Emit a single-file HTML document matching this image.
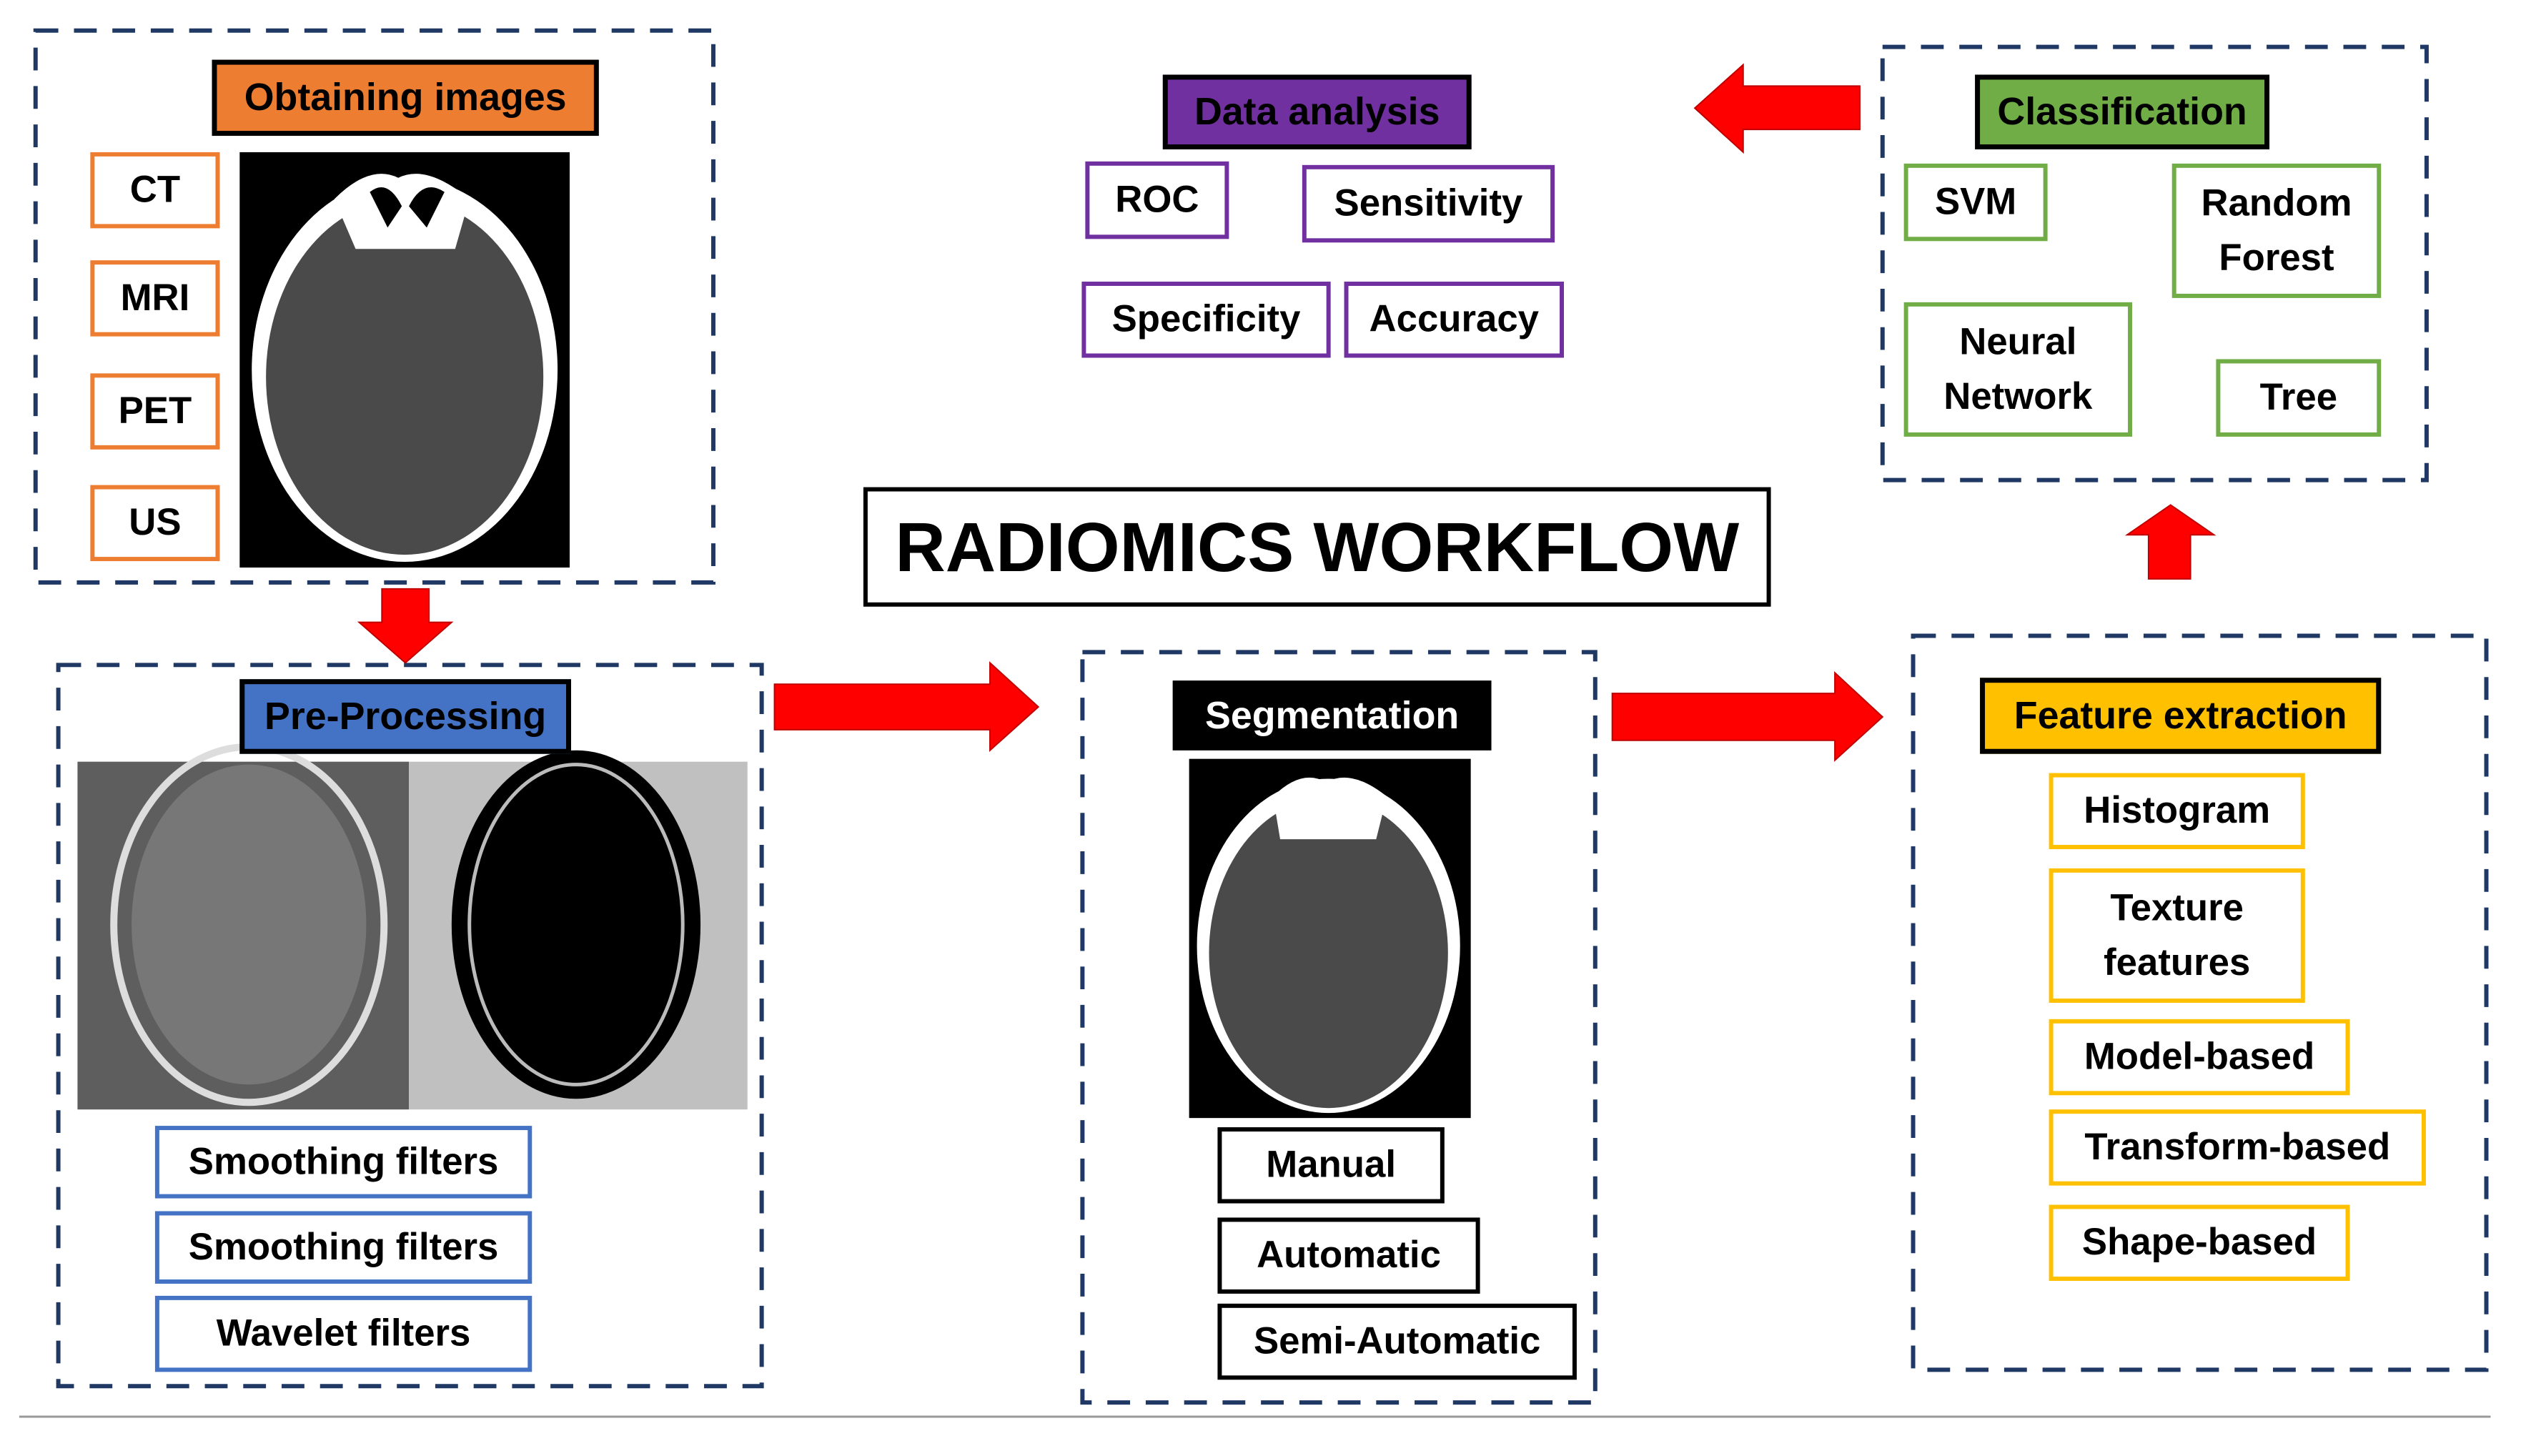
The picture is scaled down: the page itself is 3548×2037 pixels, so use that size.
<!DOCTYPE html>
<html><head><meta charset="utf-8"><style>
html,body{margin:0;padding:0;background:#fff;}
body{width:3548px;height:2037px;position:relative;overflow:hidden;font-family:"Liberation Sans",sans-serif;font-weight:bold;}
#w{position:absolute;left:0;top:0;width:3548px;height:2037px;transform:scale(0.995);transform-origin:0 0;}
.b{position:absolute;box-sizing:border-box;display:flex;align-items:center;justify-content:center;text-align:center;color:#000;background:#fff;font-size:53px;line-height:1.45;}
.o{border:6px solid #ED7D31;}
.bl{border:6px solid #4472C4;}
.k{border:6px solid #000;}
.y{border:6px solid #FFC000;}
.g{border:6px solid #70AD47;}
.p{border:6px solid #7030A0;}
.lab{border:7px solid #000;font-size:54px;}
svg{position:absolute;left:0;top:0;}
</style></head><body><div id="w">
<svg width="3548" height="2037" viewBox="0 0 3548 2037">
<g fill="none" stroke="#1F3864" stroke-width="6" stroke-dasharray="32 22">
<rect x="50" y="43" width="953" height="776"/>
<rect x="82" y="935" width="989" height="1014"/>
<rect x="1522" y="917" width="721" height="1055"/>
<rect x="2690" y="894" width="806" height="1032"/>
<rect x="2647" y="66" width="765" height="609"/>
</g>
<g fill="#FF0000" stroke="#C00000" stroke-width="2">
<polygon points="537,828 603,828 603,875 635,875 570,932 505,875 537,875"/>
<polygon points="1089,962 1392,962 1392,932 1460,994 1392,1055 1392,1026 1089,1026"/>
<polygon points="2267,975 2580,975 2580,946 2647,1008 2580,1069 2580,1041 2267,1041"/>
<polygon points="3021,814 3080,814 3080,752 3113,752 3052,710 2991,752 3021,752"/>
<polygon points="2615,121 2451,121 2451,91 2383,152 2451,214 2451,182 2615,182"/>
</g>
<rect x="337" y="214" width="464" height="584" fill="#000"/>
<ellipse cx="569" cy="520" rx="215" ry="270" fill="#fff"/>
<ellipse cx="569" cy="530" rx="195" ry="250" fill="#4a4a4a"/>
<path d="M470 280 Q520 230 560 250 Q600 230 660 280 L640 350 L500 350 Z" fill="#fff"/>
<path d="M520 270 Q545 250 565 290 L545 320 Z M575 290 Q595 250 625 270 L600 320 Z" fill="#000"/>
<rect x="109" y="1071" width="466" height="489" fill="#5e5e5e"/>
<ellipse cx="350" cy="1300" rx="190" ry="250" fill="none" stroke="#ddd" stroke-width="10"/>
<ellipse cx="350" cy="1300" rx="165" ry="225" fill="#777"/>
<rect x="575" y="1071" width="476" height="489" fill="#c0c0c0"/>
<ellipse cx="810" cy="1300" rx="175" ry="245" fill="#000"/>
<ellipse cx="810" cy="1300" rx="150" ry="225" fill="none" stroke="#bbb" stroke-width="5"/>
<rect x="1672" y="1067" width="396" height="505" fill="#000"/>
<ellipse cx="1868" cy="1330" rx="185" ry="235" fill="#fff"/>
<ellipse cx="1868" cy="1340" rx="168" ry="218" fill="#4a4a4a"/>
<path d="M1790 1120 Q1830 1080 1865 1100 Q1900 1080 1950 1120 L1935 1180 L1800 1180 Z" fill="#fff"/>
<line x1="27" y1="1992" x2="3502" y2="1992" stroke="#999" stroke-width="3"/>
</svg>

<div class="b lab" style="left:298px;top:84px;width:544px;height:107px;background:#ED7D31;">Obtaining images</div>
<div class="b o" style="left:127px;top:214px;width:182px;height:107px;">CT</div>
<div class="b o" style="left:127px;top:366px;width:182px;height:107px;">MRI</div>
<div class="b o" style="left:127px;top:525px;width:182px;height:107px;">PET</div>
<div class="b o" style="left:127px;top:682px;width:182px;height:107px;">US</div>

<div class="b lab" style="left:337px;top:955px;width:466px;height:105px;background:#4472C4;">Pre-Processing</div>
<div class="b bl" style="left:218px;top:1583px;width:530px;height:102px;">Smoothing filters</div>
<div class="b bl" style="left:218px;top:1703px;width:530px;height:102px;">Smoothing filters</div>
<div class="b bl" style="left:218px;top:1822px;width:530px;height:107px;">Wavelet filters</div>

<div class="b lab" style="left:1649px;top:957px;width:448px;height:98px;background:#000;color:#fff;">Segmentation</div>
<div class="b k" style="left:1712px;top:1585px;width:319px;height:107px;">Manual</div>
<div class="b k" style="left:1712px;top:1712px;width:369px;height:107px;">Automatic</div>
<div class="b k" style="left:1712px;top:1833px;width:505px;height:107px;">Semi-Automatic</div>

<div class="b lab" style="left:2784px;top:953px;width:564px;height:107px;background:#FFC000;">Feature extraction</div>
<div class="b y" style="left:2881px;top:1087px;width:360px;height:107px;">Histogram</div>
<div class="b y" style="left:2881px;top:1221px;width:360px;height:189px;">Texture<br>features</div>
<div class="b y" style="left:2881px;top:1433px;width:423px;height:107px;">Model-based</div>
<div class="b y" style="left:2881px;top:1560px;width:530px;height:107px;">Transform-based</div>
<div class="b y" style="left:2881px;top:1694px;width:423px;height:107px;">Shape-based</div>

<div class="b lab" style="left:2777px;top:105px;width:414px;height:105px;background:#70AD47;">Classification</div>
<div class="b g" style="left:2677px;top:230px;width:202px;height:109px;">SVM</div>
<div class="b g" style="left:3054px;top:230px;width:294px;height:189px;">Random<br>Forest</div>
<div class="b g" style="left:2677px;top:425px;width:321px;height:189px;">Neural<br>Network</div>
<div class="b g" style="left:3116px;top:505px;width:232px;height:109px;">Tree</div>

<div class="b lab" style="left:1635px;top:105px;width:434px;height:105px;background:#7030A0;">Data analysis</div>
<div class="b p" style="left:1526px;top:227px;width:202px;height:109px;">ROC</div>
<div class="b p" style="left:1831px;top:232px;width:355px;height:109px;">Sensitivity</div>
<div class="b p" style="left:1521px;top:396px;width:350px;height:107px;">Specificity</div>
<div class="b p" style="left:1890px;top:396px;width:309px;height:107px;">Accuracy</div>

<div class="b k" style="left:1214px;top:685px;width:1276px;height:168px;font-size:98px;">RADIOMICS WORKFLOW</div>
</div></body></html>
